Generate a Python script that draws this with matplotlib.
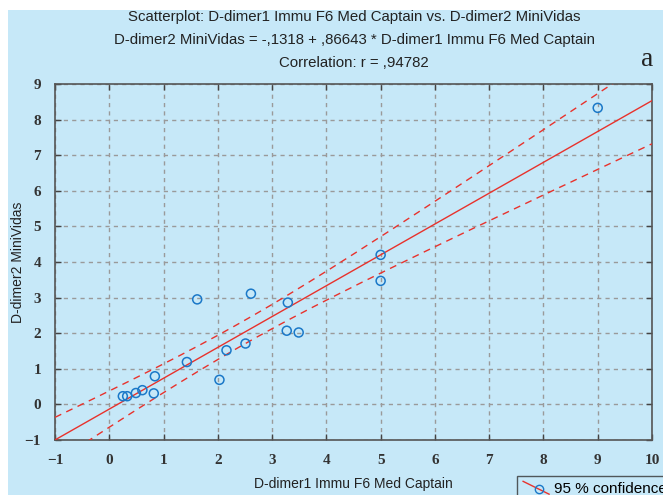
import numpy as np
import matplotlib
matplotlib.use("Agg")
import matplotlib.pyplot as plt
from matplotlib.lines import Line2D
from matplotlib.patches import Rectangle
from matplotlib.legend_handler import HandlerBase

# Data
x_captain = [9.0, 5.0, 5.0, 2.61, 1.62, 3.29, 3.27, 3.49, 2.51, 2.16, 1.43,
             2.03, 0.84, 0.82, 0.61, 0.49, 0.33, 0.25]
y_minividas = [8.33, 4.20, 3.47, 3.11, 2.95, 2.86, 2.07, 2.02, 1.71, 1.52, 1.19,
               0.69, 0.79, 0.31, 0.40, 0.32, 0.23, 0.23]
intercept = -0.1318
slope = 0.86643
t_crit = 2.11

x_ticks = list(range(-1, 11))
y_ticks = list(range(-1, 10))

BG = "#c6e8f8"
RED = "#e8322c"
BLUE = "#1a78c8"
W, H = 663, 495
fig = plt.figure(figsize=(W / 100, H / 100), dpi=100, facecolor="white")
fig.patches.append(Rectangle((8 / W, 0), 1, 1 - 10 / H, transform=fig.transFigure,
                             facecolor=BG, edgecolor="none", zorder=-10))

ax = fig.add_axes([55 / W, 1 - 440 / H, (652 - 55) / W, (440 - 84) / H])
ax.set_facecolor(BG)

xs = np.array(x_captain)
ys = np.array(y_minividas)
n = len(xs)
xx = np.linspace(-1, 10, 200)
yy = intercept + slope * xx
res = ys - (intercept + slope * xs)
s = np.sqrt(np.sum(res ** 2) / (n - 2))
xbar = xs.mean()
sxx = np.sum((xs - xbar) ** 2)
half = t_crit * s * np.sqrt(1 / n + (xx - xbar) ** 2 / sxx)

ax.plot(xx, yy, color=RED, lw=1.0, zorder=3)
ax.plot(xx, yy + half, color=RED, lw=1.0, ls=(0, (5, 4)), zorder=3)
ax.plot(xx, yy - half, color=RED, lw=1.0, ls=(0, (5, 4)), zorder=3)
ax.scatter(xs, ys, s=42, facecolors="none", edgecolors=BLUE, linewidths=1.1, zorder=4)

ax.set_xlim(-1, 10)
ax.set_ylim(-1, 9)
ax.set_xticks(x_ticks)
ax.set_yticks(y_ticks)
ax.grid(True, color="#9a9a9a", ls=(0, (3, 3)), lw=1.0)
ax.tick_params(direction="in", length=4, width=1.0, color="#444444", pad=10,
               top=True, right=True)
for lab in ax.get_xticklabels() + ax.get_yticklabels():
    lab.set_fontfamily("Liberation Serif")
    lab.set_fontweight("bold")
    lab.set_fontsize(11)
    lab.set_color("#333333")
for sp in ax.spines.values():
    sp.set_color("#555555")
    sp.set_linewidth(1.2)

ax.set_xlabel("D-dimer1 Immu F6 Med Captain", fontfamily="Liberation Sans", fontsize=10,
              labelpad=7, color="#222222")
ax.set_ylabel("D-dimer2 MiniVidas", fontfamily="Liberation Sans", fontsize=10,
              labelpad=0, color="#222222")

titles = ["Scatterplot: D-dimer1 Immu F6 Med Captain vs. D-dimer2 MiniVidas",
          "D-dimer2 MiniVidas = -,1318 + ,86643 * D-dimer1 Immu F6 Med Captain",
          "Correlation: r = ,94782"]
for i, t in enumerate(titles):
    fig.text(354 / W, 1 - (17 + 23 * i) / H, t, ha="center", va="center",
             fontfamily="Liberation Sans", fontsize=10.8, color="#222222")
fig.text(647 / W, 1 - 60 / H, "a", ha="center", va="center",
         fontfamily="Liberation Serif", fontsize=20, color="#222222")


class DiagHandler(HandlerBase):
    def create_artists(self, legend, orig_handle, xdescent, ydescent, width, height,
                       fontsize, trans):
        ln = Line2D([-xdescent, -xdescent + width], [height * 1.1, -height * 0.1],
                    color=RED, lw=1.0, transform=trans)
        mk = Line2D([-xdescent + width * 0.6], [height * 0.35], marker="o", markersize=6,
                    markerfacecolor="none", markeredgecolor=BLUE, lw=0, transform=trans)
        return [ln, mk]


handle = Line2D([0], [0], color=RED)
leg = fig.legend([handle], ["95 % confidence"], loc="upper left",
                 bbox_to_anchor=(517 / W, 1 - 476 / H), borderaxespad=0, frameon=True,
                 prop={"family": "Liberation Sans", "size": 11}, fancybox=False,
                 borderpad=0.4, handlelength=1.7, handletextpad=0.3,
                 handler_map={Line2D: DiagHandler()})
leg.get_frame().set_edgecolor("#333333")
leg.get_frame().set_facecolor(BG)
leg.get_frame().set_linewidth(1.0)

fig.savefig("out.png", dpi=100, facecolor="white")
